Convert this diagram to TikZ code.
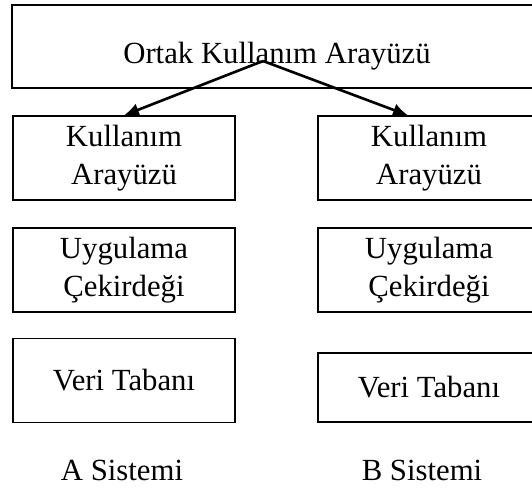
\documentclass[tikz,border=0pt]{standalone}
\usepackage{fontspec}
\setmainfont{Liberation Serif}
\usetikzlibrary{arrows.meta}
\begin{document}
\begin{tikzpicture}[>={Latex[length=8.5pt,width=7.5pt]}, x=0.02cm, y=-0.02cm,
  kutu/.style={draw, line width=0.75pt, minimum width=4.44cm, minimum height=1.68cm, align=center, inner sep=0pt},
  yazi/.style={font=\fontsize{17.5}{21.5}\selectfont}]

\useasboundingbox (0,0) rectangle (532,489);

% Ortak arayüz
\node[kutu, yazi, minimum width=10.6cm, minimum height=1.66cm, text height=22.8pt, text depth=4pt] (ortak) at (277,46.5) {Ortak Kullanım Arayüzü};

% Sistem katmanları
\foreach \s/\x in {a/124, b/429} {
  \node[kutu, yazi] (kullanim\s) at (\x,158) {Kullanım\\Arayüzü};
  \node[kutu, yazi] (uygulama\s) at (\x,270) {Uygulama\\Çekirdeği};
}

% Veri tabanları
\node[kutu, yazi] (veria) at (124,380.5) {Veri Tabanı};
\node[kutu, yazi, minimum height=1.38cm] (verib) at (429,387.5) {Veri Tabanı};

% Sistem adları
\node[yazi] (sistema) at (122,470) {A Sistemi};
\node[yazi] (sistemb) at (422,470) {B Sistemi};

% Oklar
\coordinate (tepe) at (263,61);
\draw[->, line width=1.5pt] (tepe) -- (kullanima.north);
\draw[->, line width=1.5pt] (tepe) -- ([xshift=-0.42cm]kullanimb.north);

\end{tikzpicture}
\end{document}
